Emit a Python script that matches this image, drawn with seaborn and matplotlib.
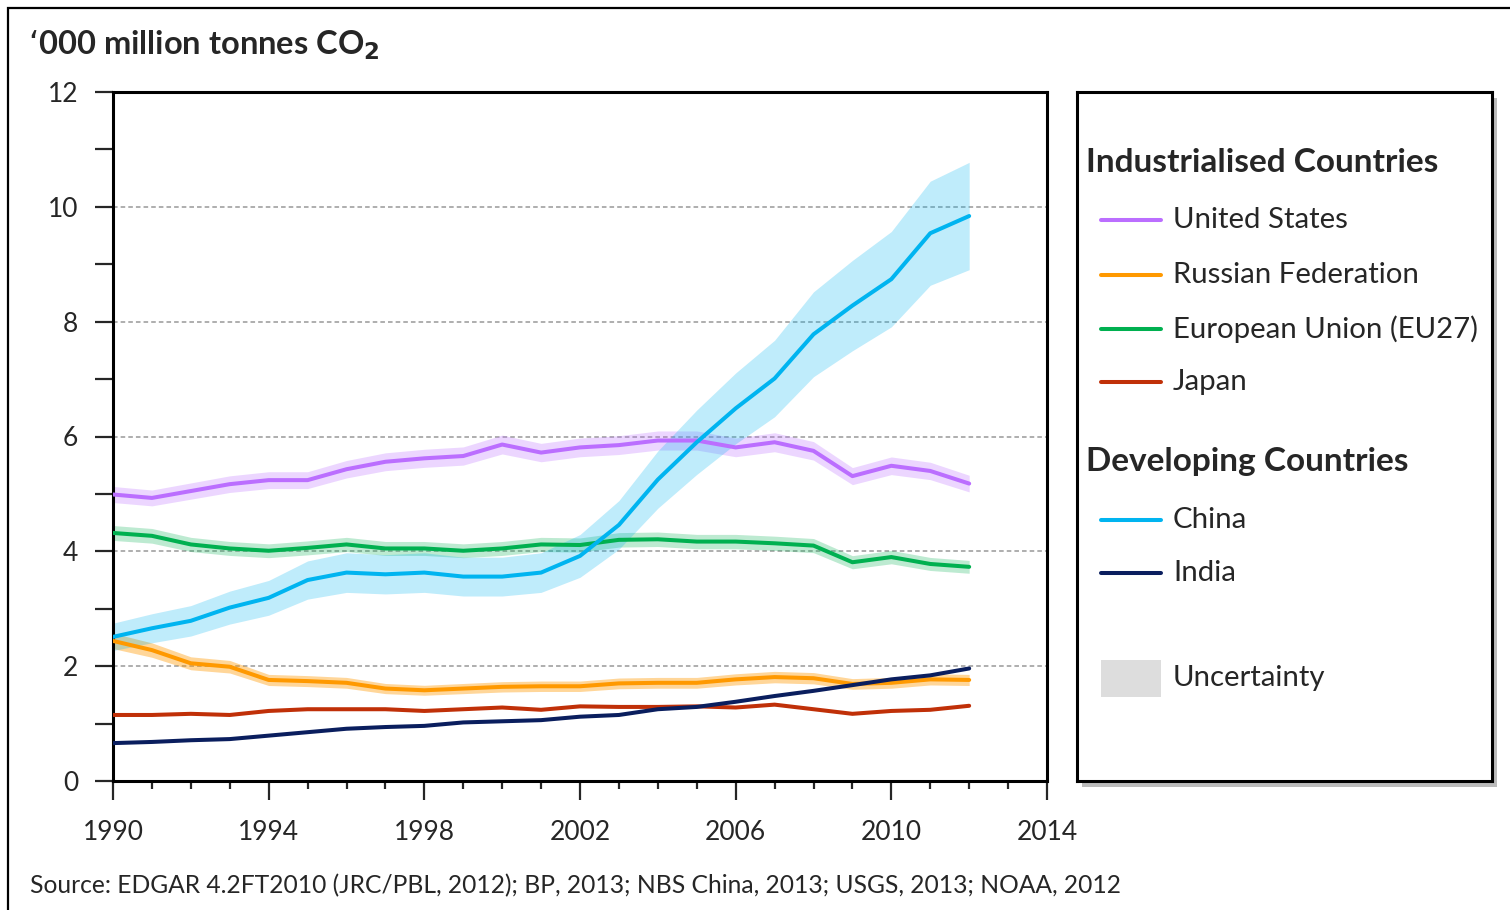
import matplotlib
matplotlib.use("Agg")
import matplotlib.pyplot as plt
from matplotlib.lines import Line2D
from matplotlib.patches import Rectangle
import numpy as np
import pandas as pd
import seaborn as sns

years = list(range(1990, 2013))
united_states = [4.99, 4.93, 5.05, 5.17, 5.24, 5.24, 5.43, 5.56, 5.62, 5.66, 5.86, 5.72,
                 5.81, 5.85, 5.93, 5.93, 5.81, 5.90, 5.75, 5.31, 5.49, 5.40, 5.18]
russia = [2.44, 2.28, 2.05, 1.99, 1.76, 1.74, 1.71, 1.61, 1.58, 1.61, 1.64, 1.65,
          1.65, 1.70, 1.71, 1.71, 1.77, 1.81, 1.79, 1.69, 1.71, 1.77, 1.76]
eu27 = [4.32, 4.27, 4.12, 4.05, 4.01, 4.06, 4.12, 4.05, 4.05, 4.01, 4.05, 4.12,
        4.11, 4.20, 4.21, 4.17, 4.17, 4.14, 4.10, 3.81, 3.90, 3.78, 3.73]
japan = [1.15, 1.15, 1.17, 1.15, 1.22, 1.25, 1.25, 1.25, 1.22, 1.25, 1.28, 1.24,
         1.30, 1.29, 1.29, 1.30, 1.28, 1.33, 1.25, 1.17, 1.22, 1.24, 1.31]
china = [2.51, 2.66, 2.79, 3.02, 3.19, 3.50, 3.63, 3.60, 3.63, 3.56, 3.56, 3.63,
         3.92, 4.46, 5.25, 5.90, 6.49, 7.01, 7.78, 8.28, 8.74, 9.54, 9.84]
india = [0.66, 0.68, 0.71, 0.73, 0.79, 0.85, 0.91, 0.94, 0.96, 1.02, 1.04, 1.06,
         1.12, 1.15, 1.25, 1.29, 1.38, 1.48, 1.57, 1.67, 1.77, 1.84, 1.96]

# relative uncertainty (half-width of band as fraction of value)
uncertainty = {"United States": 0.028, "Russian Federation": 0.055,
               "European Union (EU27)": 0.03, "Japan": 0.0,
               "China": 0.095, "India": 0.0}

industrialised = ["United States", "Russian Federation", "European Union (EU27)", "Japan"]
developing = ["China", "India"]
colors = {"United States": "#BB6EFF", "Russian Federation": "#FF9900",
          "European Union (EU27)": "#00B050", "Japan": "#C03008",
          "China": "#00B4F0", "India": "#0A1E5E"}
band_alpha = {"United States": 0.28, "Russian Federation": 0.4,
              "European Union (EU27)": 0.26, "China": 0.25}
series = {"United States": united_states, "Russian Federation": russia,
          "European Union (EU27)": eu27, "Japan": japan, "China": china, "India": india}

sns.set_style("ticks")
plt.rcParams["font.family"] = ["Lato", "DejaVu Sans"]

df = pd.concat([pd.DataFrame({"year": years, "value": v, "country": k})
                for k, v in series.items()], ignore_index=True)

W, H = 1510, 910
fig = plt.figure(figsize=(W / 100, H / 100), dpi=100)

def fr(x0, y0, x1, y1):
    return [x0 / W, 1 - y1 / H, (x1 - x0) / W, (y1 - y0) / H]

ax = fig.add_axes(fr(113, 92, 1047, 781))

# uncertainty bands
for k, v in series.items():
    u = uncertainty[k]
    if u > 0:
        v = np.array(v)
        ax.fill_between(years, v * (1 - u), v * (1 + u), color=colors[k],
                        alpha=band_alpha[k], linewidth=0, zorder=1)

sns.lineplot(data=df, x="year", y="value", hue="country", palette=colors,
             linewidth=2.9, legend=False, ax=ax, zorder=3)

ax.set_xlim(1990, 2014)
ax.set_ylim(0, 12)
ax.set_xlabel("")
ax.set_ylabel("")
ax.set_xticks(range(1990, 2015, 4))
ax.set_xticks(range(1990, 2015), minor=True)
ax.set_yticks(range(0, 13, 2))
ax.set_yticks(range(1, 13, 2), minor=True)
ax.tick_params(axis="x", which="major", length=14, width=1.6, pad=14, labelsize=19, direction="out")
ax.tick_params(axis="x", which="minor", length=6, width=1.6, direction="out")
ax.tick_params(axis="y", which="both", length=13, width=1.6, pad=12, labelsize=19, direction="out")
for y in [2, 4, 6, 8, 10]:
    ax.axhline(y, color="#999999", linestyle=(0, (3, 2)), linewidth=1.1, zorder=0)
for s in ax.spines.values():
    s.set_visible(True)
    s.set_linewidth(2.2)
    s.set_color("black")

fig.text(28 / W, 1 - 45 / H, "‘000 million tonnes CO$_\\mathbf{2}$", fontsize=23.5,
         fontweight="bold", ha="left", va="center")
fig.text(30 / W, 1 - 886 / H,
         "Source: EDGAR 4.2FT2010 (JRC/PBL, 2012); BP, 2013; NBS China, 2013; USGS, 2013; NOAA, 2012",
         fontsize=17.7, ha="left", va="center")

# outer frame
fig.patches.append(Rectangle((8 / W, -0.05), 1.1, 1 - 8 / H + 0.05, transform=fig.transFigure,
                             fill=False, edgecolor="black", linewidth=1.6))

# legend box with shadow
fig.patches.append(Rectangle((1082 / W, 1 - 787 / H), 415 / W, 689 / H,
                             transform=fig.transFigure, facecolor="#BBBBBB",
                             edgecolor="none", zorder=-1))
lax = fig.add_axes(fr(1077, 92, 1492, 781))
lax.set_zorder(3)
lax.set_xlim(1077, 1492)
lax.set_ylim(781, 92)
lax.set_xticks([])
lax.set_yticks([])
lax.set_facecolor("white")
for s in lax.spines.values():
    s.set_linewidth(2.2)
    s.set_color("black")

lfs = 21.2
hfs = 24
lax.text(1086, 162, "Industrialised Countries", fontsize=hfs, fontweight="bold", va="center")
for name, yy in zip(industrialised, [220, 275, 329, 382]):
    lax.add_line(Line2D([1101, 1161], [yy, yy], color=colors[name], linewidth=2.9))
    lax.text(1173, yy, name, fontsize=lfs, va="center")
lax.text(1086, 461, "Developing Countries", fontsize=hfs, fontweight="bold", va="center")
for name, yy in zip(developing, [520, 573]):
    lax.add_line(Line2D([1101, 1161], [yy, yy], color=colors[name], linewidth=2.9))
    lax.text(1173, yy, name, fontsize=lfs, va="center")
lax.add_patch(Rectangle((1101, 660), 60, 37, facecolor="#DDDDDD", edgecolor="none"))
lax.text(1173, 678, "Uncertainty", fontsize=lfs, va="center")

fig.savefig("out.png", dpi=100)
